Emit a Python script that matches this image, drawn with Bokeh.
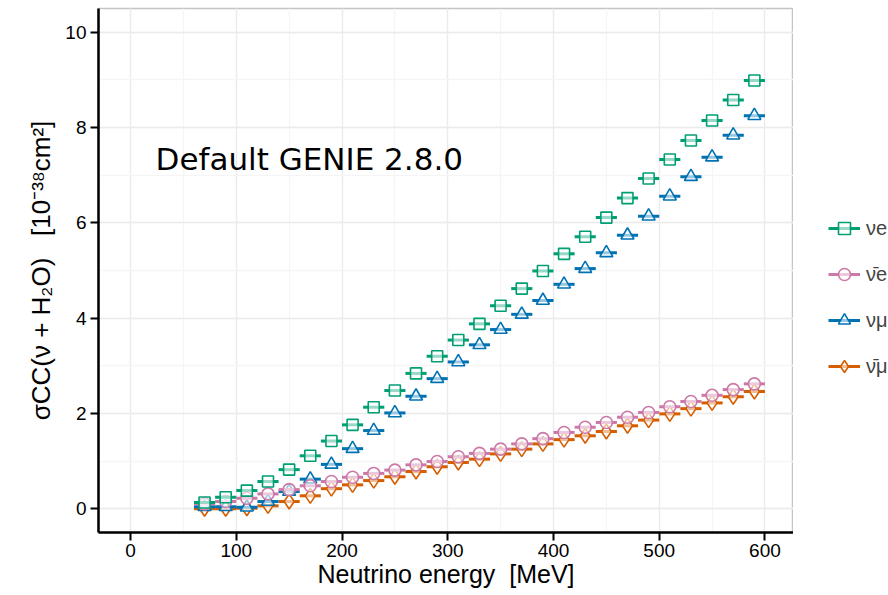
from bokeh.plotting import figure
from bokeh.layouts import row
from bokeh.models import (ColumnDataSource, Range1d, SingleIntervalTicker,
                          Legend, LegendItem, Label)
from bokeh.embed import file_html
from bokeh.resources import INLINE

# ---- data ----
energy = [70, 90, 110, 130, 150, 170, 190, 210, 230, 250, 270, 290, 310, 330,
          350, 370, 390, 410, 430, 450, 470, 490, 510, 530, 550, 570, 590]
bin_half = 10

nue = [0.13, 0.24, 0.38, 0.57, 0.82, 1.11, 1.42, 1.76, 2.13, 2.48, 2.84, 3.20,
       3.54, 3.88, 4.26, 4.62, 4.99, 5.35, 5.71, 6.11, 6.52, 6.93, 7.33, 7.73,
       8.15, 8.58, 8.99]
nuebar = [0.10, 0.15, 0.22, 0.31, 0.40, 0.48, 0.57, 0.66, 0.74, 0.81, 0.92,
          0.99, 1.09, 1.16, 1.25, 1.36, 1.47, 1.60, 1.71, 1.81, 1.92, 2.02,
          2.14, 2.25, 2.38, 2.50, 2.62]
numu = [0.04, 0.04, 0.03, 0.15, 0.36, 0.62, 0.93, 1.26, 1.64, 2.01, 2.36, 2.73,
        3.08, 3.44, 3.76, 4.08, 4.37, 4.71, 5.04, 5.37, 5.74, 6.14, 6.56, 6.97,
        7.38, 7.84, 8.25]
numubar = [0.00, 0.00, 0.01, 0.06, 0.15, 0.27, 0.42, 0.50, 0.59, 0.67, 0.78,
           0.88, 0.97, 1.04, 1.15, 1.25, 1.36, 1.45, 1.53, 1.62, 1.74, 1.86,
           1.99, 2.10, 2.22, 2.35, 2.46]

labels = ["\u03bde", "\u03bd\u0304e", "\u03bd\u03bc", "\u03bd\u0304\u03bc"]
x_ticks_interval = 100
y_ticks_interval = 2
annotation = "Default GENIE 2.8.0"
x_title = "Neutrino energy\u00a0\u00a0[MeV]"
y_title = "\u03c3CC(\u03bd\u00a0+\u00a0H\u2082O)\u00a0\u00a0\u00a0[10\u207b\u00b3\u2078cm\u00b2]"

GREEN, PINK, BLUE, ORANGE = "#009E73", "#CC79A7", "#0072B2", "#D55E00"
FONT = "Liberation Sans"

p = figure(width=793, height=595, output_backend="svg", toolbar_location=None,
           x_range=Range1d(-30.3, 627), y_range=Range1d(-0.5, 10.5),
           min_border_left=98, min_border_right=0, min_border_top=8,
           min_border_bottom=63)
p.background_fill_color = "white"
p.outline_line_color = "#C4C4C4"
p.outline_line_width = 1.5

# legend panel as a separate, axis-less figure
lf = figure(width=95, height=595, output_backend="svg", toolbar_location=None,
            x_axis_type=None, y_axis_type=None, min_border=0,
            x_range=Range1d(0, 1), y_range=Range1d(0, 1))
lf.outline_line_color = None
lf.xgrid.visible = False
lf.ygrid.visible = False

series = {
    "nue": (nue, GREEN, "square", 11),
    "nuebar": (nuebar, PINK, "circle", 12),
    "numu": (numu, BLUE, "triangle", 13),
    "numubar": (numubar, ORANGE, "diamond", 15),
}
legend_renderers = {}
for key in ["numubar", "numu", "nuebar", "nue"]:
    vals, col, mk, sz = series[key]
    src = ColumnDataSource(dict(
        x=energy, y=vals,
        x0=[e - bin_half for e in energy], x1=[e + bin_half for e in energy]))
    seg_style = dict(line_color=col, line_width=3)
    sc_style = dict(marker=mk, size=sz, line_color=col, line_width=1.6,
                    fill_color="white", fill_alpha=0.6)
    p.segment(x0="x0", y0="y", x1="x1", y1="y", source=src, **seg_style)
    p.scatter("x", "y", source=src, **sc_style)
    # key glyphs for the legend panel (one off-screen row so the key is drawn)
    keysrc = ColumnDataSource(dict(x=[-5], y=[-5], x0=[-5], x1=[-5]))
    lseg = lf.segment(x0="x0", y0="y", x1="x1", y1="y", source=keysrc, **seg_style)
    lsc = lf.scatter("x", "y", source=keysrc, **sc_style)
    legend_renderers[key] = [lseg, lsc]

# axes
for ax in (p.xaxis, p.yaxis):
    ax.axis_line_color = "black"
    ax.axis_line_width = 2.5
    ax.major_tick_line_color = "black"
    ax.major_tick_line_width = 2
    ax.major_tick_out = 8
    ax.major_tick_in = 0
    ax.minor_tick_line_color = None
    ax.major_label_text_font = FONT
    ax.major_label_text_font_size = "19px"
    ax.major_label_text_color = "black"
    ax.major_label_standoff = 4
    ax.axis_label_text_font = FONT
    ax.axis_label_text_font_size = "25px"
    ax.axis_label_text_font_style = "normal"
    ax.axis_label_text_color = "black"
    ax.axis_label_standoff = 6

p.xaxis.ticker = SingleIntervalTicker(interval=x_ticks_interval, num_minor_ticks=2)
p.yaxis.ticker = SingleIntervalTicker(interval=y_ticks_interval, num_minor_ticks=2)
p.xaxis.axis_label = x_title
p.yaxis.axis_label = y_title
p.yaxis.axis_label_text_font_size = "26px"
p.xaxis.axis_label_standoff = 0
p.xaxis.major_label_standoff = 3

for g in (p.xgrid, p.ygrid):
    g.grid_line_color = "#EBEBEB"
    g.grid_line_width = 1.3
    g.minor_grid_line_color = "#F5F5F5"
    g.minor_grid_line_width = 1.3

p.add_layout(Label(x=23.7, y=7.35, text=annotation, text_font="DejaVu Sans",
                   text_font_size="31px", text_color="black",
                   text_baseline="alphabetic"))

items = [LegendItem(label=labels[0], renderers=legend_renderers["nue"]),
         LegendItem(label=labels[1], renderers=legend_renderers["nuebar"]),
         LegendItem(label=labels[2], renderers=legend_renderers["numu"]),
         LegendItem(label=labels[3], renderers=legend_renderers["numubar"])]
legend = Legend(items=items, location=(35, 151), margin=0, padding=0,
                glyph_width=32, glyph_height=30, label_height=30, spacing=16,
                label_standoff=6, label_text_font=FONT,
                label_text_font_size="20px", border_line_color=None,
                background_fill_alpha=0)
lf.add_layout(legend)

layout = row(p, lf, spacing=0)
open("out.html", "w").write(file_html(layout, INLINE))
